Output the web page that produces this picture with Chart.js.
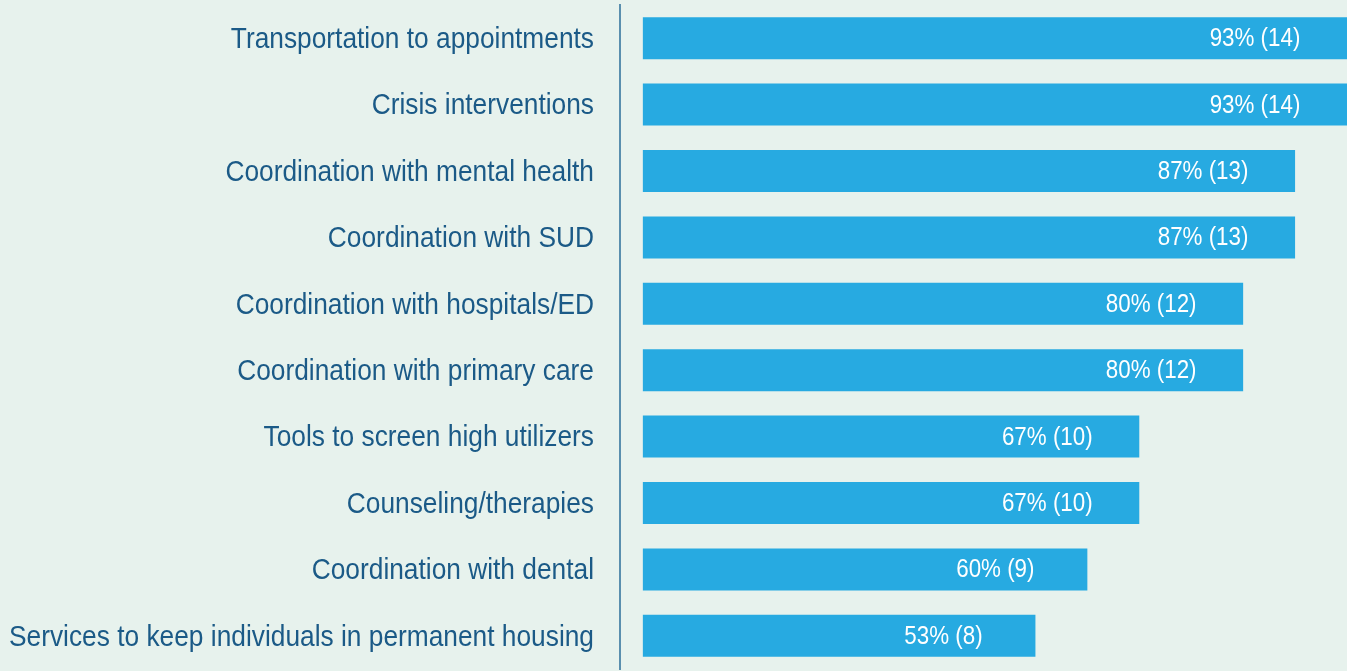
<!DOCTYPE html>
<html>
<head>
<meta charset="utf-8">
<script src="https://cdn.jsdelivr.net/npm/chart.js@4/dist/chart.umd.min.js"></script>
<style>
    html, body { margin: 0; padding: 0; background: #e7f2ed; }
    #wrap { width: 1347px; height: 671px; }
</style>
</head>
<body>
<div id="wrap"><canvas id="chart-bar"></canvas></div>
<script>
const categories = [
    'Transportation to appointments',
    'Crisis interventions',
    'Coordination with mental health',
    'Coordination with SUD',
    'Coordination with hospitals/ED',
    'Coordination with primary care',
    'Tools to screen high utilizers',
    'Counseling/therapies',
    'Coordination with dental',
    'Services to keep individuals in permanent housing'
];
const counts = [14, 14, 13, 13, 12, 12, 10, 10, 9, 8];
const percents = [93, 93, 87, 87, 80, 80, 67, 67, 60, 53];

// the original uses a condensed face; squeeze Liberation Sans to match
const labelFont = "'Liberation Sans', Arial, sans-serif";
const squeeze = 0.877;

function narrowText(ctx, text, x, y) {
    ctx.save();
    ctx.translate(x, y);
    ctx.scale(squeeze, 1);
    ctx.fillText(text, 0, 0);
    ctx.restore();
}

// category names left of the axis + white "93% (14)" inside the bars
const textLayer = {
    id: 'textLayer',
    afterDatasetsDraw(chart) {
        const ctx = chart.ctx;
        const yScale = chart.scales.y;
        const meta = chart.getDatasetMeta(0);
        ctx.save();
        ctx.textBaseline = 'middle';

        ctx.fillStyle = '#1b5a87';
        ctx.font = '30px ' + labelFont;
        ctx.textAlign = 'right';
        categories.forEach((name, i) => {
            narrowText(ctx, name, yScale.right - 26, yScale.getPixelForTick(i) + 1.5);
        });

        ctx.fillStyle = '#ffffff';
        ctx.font = '25.5px ' + labelFont;
        ctx.textAlign = 'center';
        meta.data.forEach((bar, i) => {
            narrowText(ctx, percents[i] + '% (' + counts[i] + ')', bar.x - 92, bar.y + 1);
        });
        ctx.restore();
    }
};

document.addEventListener("DOMContentLoaded", function () {
    const ctx = document.getElementById('chart-bar').getContext('2d');
    new Chart(ctx, {
        type: 'bar',
        data: {
            labels: categories,
            datasets: [{
                data: counts,
                base: 0.44,
                backgroundColor: '#27aae1',
                borderWidth: 0,
                categoryPercentage: 1,
                barPercentage: 0.632
            }]
        },
        options: {
            indexAxis: 'y',
            responsive: true,
            maintainAspectRatio: false,
            animation: false,
            layout: { padding: { top: 5, bottom: 2, left: 0, right: 0 } },
            plugins: {
                legend: { display: false },
                tooltip: { enabled: false }
            },
            scales: {
                x: {
                    display: false,
                    min: 0,
                    max: 14
                },
                y: {
                    afterFit(scale) {
                        scale.width = 620;
                        scale.paddingTop = 0;
                        scale.paddingBottom = 0;
                    },
                    grid: { display: false, drawTicks: false },
                    border: { display: true, color: '#5a8fae', width: 2 },
                    ticks: { display: false }
                }
            }
        },
        plugins: [textLayer]
    });
});
</script>
</body>
</html>
